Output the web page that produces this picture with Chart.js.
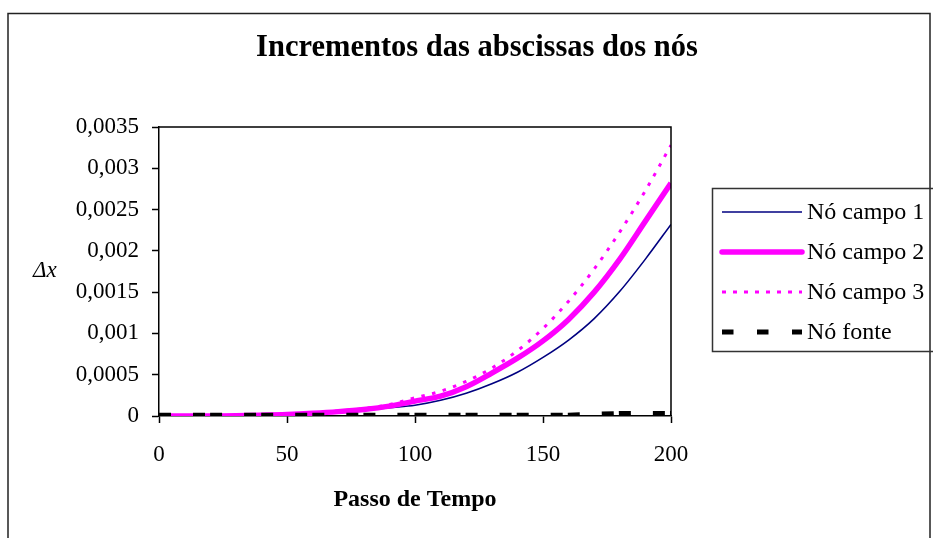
<!DOCTYPE html>
<html>
<head>
<meta charset="utf-8">
<script src="https://cdn.jsdelivr.net/npm/chart.js@4"></script>
<style>
  html, body { margin: 0; padding: 0; background: #fff; }
</style>
</head>
<body>
<canvas id="chart" width="933" height="538"></canvas>
<script>
const titleText = "Incrementos das abscissas dos nós";
const xTitle = "Passo de Tempo";
const yTitle = "Δx";

const steps = [0, 10, 20, 30, 40, 50, 60, 70, 80, 90, 100, 110, 120, 130, 140, 150, 160, 170, 180, 190, 200];
const campo1 = [0, 0, 0, 0.000003, 0.000008, 0.000015, 0.000028, 0.000045, 0.000068, 0.0001, 0.00013, 0.00019, 0.000275, 0.00039, 0.00053, 0.00071, 0.00092, 0.00118, 0.00151, 0.0019, 0.00232];
const campo2 = [0, 0, 0, 0.000003, 0.000009, 0.000018, 0.000033, 0.000053, 0.00008, 0.00012, 0.00018, 0.00024, 0.000355, 0.00052, 0.0007, 0.00091, 0.00117, 0.0015, 0.0019, 0.00236, 0.00282];
const campo3 = [0, 0, 0, 0.000004, 0.00001, 0.00002, 0.000038, 0.00006, 0.00009, 0.00014, 0.00022, 0.0003, 0.00042, 0.00058, 0.00079, 0.00106, 0.00139, 0.00178, 0.00223, 0.00273, 0.00328];

const fonteSteps = [0, 20, 40, 60, 80, 100, 120, 140, 160, 180, 200];
const fonte = [0.00001, 0.00001, 0.00001, 0.00001, 0.00001, 0.00001, 0.00001, 0.00001, 0.00001, 0.00003, 0.00003];

const yTickLabels = ["0", "0,0005", "0,001", "0,0015", "0,002", "0,0025", "0,003", "0,0035"];

const serif = '"Liberation Serif", "Times New Roman", serif';

function pts(xs, ys) {
  return xs.map((x, i) => ({ x, y: ys[i] }));
}

const overlay = {
  id: "overlay",
  afterDraw(chart) {
    const { ctx, chartArea: a } = chart;
    ctx.save();

    // moldura externa
    ctx.strokeStyle = "#222";
    ctx.lineWidth = 1.5;
    ctx.strokeRect(8, 13.5, 922, 540);

    // topo e direita da area do grafico
    ctx.strokeStyle = "#000";
    ctx.beginPath();
    ctx.moveTo(a.left, a.top);
    ctx.lineTo(a.right, a.top);
    ctx.lineTo(a.right, a.bottom);
    ctx.stroke();

    ctx.fillStyle = "#000";
    ctx.textBaseline = "alphabetic";
    ctx.font = "bold 30.5px " + serif;
    ctx.textAlign = "center";
    ctx.fillText(titleText, 477, 56);

    ctx.font = "italic 23px " + serif;
    ctx.textAlign = "left";
    ctx.fillText(yTitle, 33, 277);

    // legenda
    ctx.strokeStyle = "#333";
    ctx.lineWidth = 1.5;
    ctx.strokeRect(712.5, 188.5, 240, 163);
    ctx.font = "24px " + serif;
    ctx.textBaseline = "middle";
    chart.data.datasets.forEach((ds, i) => {
      const y = 212 + i * 40;
      ctx.strokeStyle = ds.borderColor;
      ctx.lineWidth = ds.borderWidth;
      ctx.lineCap = ds.legendCap || "butt";
      ctx.setLineDash(ds.legendDash || []);
      ctx.beginPath();
      ctx.moveTo(722, y);
      ctx.lineTo(802, y);
      ctx.stroke();
      ctx.setLineDash([]);
      ctx.fillText(ds.label, 807, y + 1);
    });

    ctx.restore();
  }
};

new Chart(document.getElementById("chart"), {
  type: "line",
  data: {
    datasets: [
      {
        label: "Nó campo 1",
        data: pts(steps, campo1),
        borderColor: "#000080",
        borderWidth: 1.6,
        cubicInterpolationMode: "monotone",
        order: 4,
      },
      {
        label: "Nó campo 2",
        data: pts(steps, campo2),
        borderColor: "#ff00ff",
        borderWidth: 5.5,
        cubicInterpolationMode: "monotone",
        legendCap: "round",
        order: 3,
      },
      {
        label: "Nó campo 3",
        data: pts(steps, campo3),
        borderColor: "#ff00ff",
        borderWidth: 3,
        borderDash: [3.5, 7.5],
        legendDash: [4, 7],
        cubicInterpolationMode: "monotone",
        order: 2,
      },
      {
        label: "Nó fonte",
        data: pts(fonteSteps, fonte),
        borderColor: "#000",
        borderWidth: 5,
        borderDash: [12, 22, 12, 5.1],
        legendDash: [11.5, 23.5],
        order: 1,
      },
    ],
  },
  options: {
    responsive: false,
    animation: false,
    devicePixelRatio: 1,
    layout: { padding: { top: 127, right: 262, left: 0, bottom: 0 } },
    elements: { point: { radius: 0 }, line: { borderCapStyle: "butt" } },
    plugins: {
      legend: { display: false },
      title: { display: false },
      tooltip: { enabled: false },
    },
    scales: {
      x: {
        type: "linear",
        min: 0,
        max: 200,
        afterFit: (s) => { s.height = 122; },
        ticks: {
          stepSize: 50,
          padding: 18,
          color: "#000",
          font: { family: serif, size: 23 },
        },
        grid: { drawOnChartArea: false, drawTicks: true, tickLength: 7, tickColor: "#000", tickWidth: 1.5 },
        border: { display: true, color: "#000", width: 1.5 },
        title: {
          display: true,
          text: xTitle,
          color: "#000",
          font: { family: serif, size: 24, weight: "bold" },
          padding: { top: 0, bottom: 24 },
        },
      },
      y: {
        min: 0,
        max: 0.0035,
        afterFit: (s) => { s.width = 159; },
        ticks: {
          stepSize: 0.0005,
          padding: 13,
          color: "#000",
          font: { family: serif, size: 23 },
          callback: (v) => yTickLabels[Math.round(v / 0.0005)],
        },
        grid: { drawOnChartArea: false, drawTicks: true, tickLength: 7, tickColor: "#000", tickWidth: 1.5 },
        border: { display: true, color: "#000", width: 1.5 },
      },
    },
  },
  plugins: [overlay],
});
</script>
</body>
</html>
